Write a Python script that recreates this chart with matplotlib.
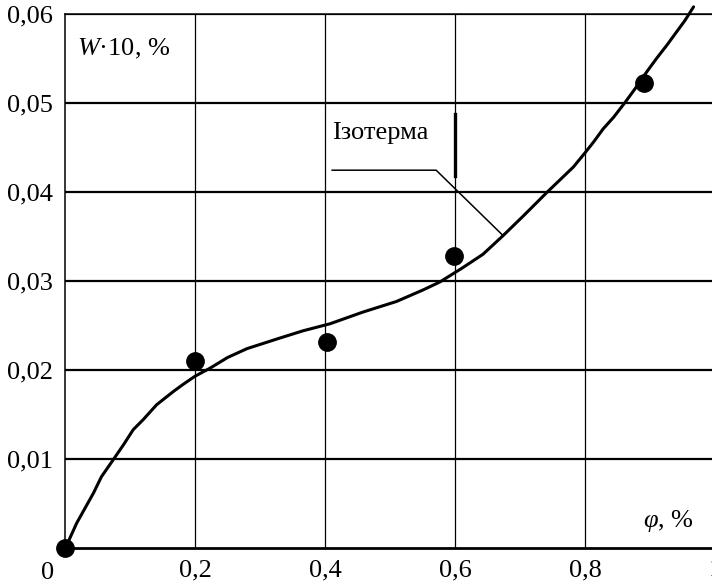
import matplotlib
matplotlib.use("Agg")
import matplotlib.pyplot as plt

plt.rcParams['font.family'] = ['Liberation Serif', 'DejaVu Serif']
plt.rcParams['mathtext.fontset'] = 'custom'
plt.rcParams['mathtext.rm'] = 'Liberation Serif'
plt.rcParams['mathtext.it'] = 'Liberation Serif:italic'

# Isotherm curve
curve_x = [0.0, 0.005, 0.018, 0.031, 0.044, 0.056, 0.074, 0.090, 0.105, 0.120,
           0.141, 0.167, 0.182, 0.200, 0.223, 0.250, 0.28, 0.331, 0.366, 0.408,
           0.458, 0.51, 0.551, 0.577, 0.612, 0.643, 0.674, 0.705, 0.742, 0.762,
           0.782, 0.800, 0.813, 0.828, 0.844, 0.862, 0.877, 0.895, 0.910, 0.926,
           0.941, 0.954, 0.967]
curve_y = [0.0, 0.0007, 0.0028, 0.0045, 0.0062, 0.0080, 0.0099, 0.0116, 0.0133, 0.0144,
           0.0161, 0.0176, 0.0184, 0.0193, 0.0202, 0.0214, 0.0224, 0.0236, 0.0244, 0.0252,
           0.0265, 0.0277, 0.029, 0.0299, 0.0315, 0.033, 0.0351, 0.0373, 0.0400, 0.0414,
           0.0428, 0.0444, 0.0456, 0.0471, 0.0484, 0.0501, 0.0516, 0.0535, 0.0550, 0.0565,
           0.0580, 0.0593, 0.0608]

# Experimental points
pts_x = [0.0, 0.2, 0.403, 0.598, 0.891]
pts_y = [0.0, 0.021, 0.0231, 0.0328, 0.0522]

xticks = [0.2, 0.4, 0.6, 0.8, 1.0]
xtick_labels = ['0,2', '0,4', '0,6', '0,8', '1']
yticks = [0.01, 0.02, 0.03, 0.04, 0.05, 0.06]
ytick_labels = ['0,01', '0,02', '0,03', '0,04', '0,05', '0,06']

FS = 19

W, H = 712, 585
fig = plt.figure(figsize=(W / 100, H / 100), dpi=100)
left, right, top, bottom = 65, 715, 14, 548
ax = fig.add_axes([left / W, (H - bottom) / H, (right - left) / W, (bottom - top) / H])
ax.set_xlim(0, 1)
ax.set_ylim(0, 0.06)

# grid
for xv in xticks:
    ax.axvline(xv, color='black', lw=0.9, zorder=1)
for yv in yticks:
    ax.axhline(yv, color='black', lw=1.6, zorder=1)

ax.spines['right'].set_visible(False)
ax.spines['top'].set_linewidth(1.1)
ax.spines['left'].set_linewidth(1.1)
ax.spines['bottom'].set_linewidth(2.0)

ax.plot(curve_x, curve_y, color='black', lw=2.2, zorder=3, clip_on=False,
        solid_joinstyle='round', solid_capstyle='round')
ax.plot(pts_x, pts_y, 'o', color='black', ms=12.5, zorder=4, clip_on=False)

ax.set_xticks(xticks)
ax.set_xticklabels(xtick_labels)
ax.set_yticks(yticks)
ax.set_yticklabels(ytick_labels)
ax.tick_params(axis='both', length=0, labelsize=FS)
ax.tick_params(axis='x', pad=8)
ax.tick_params(axis='y', pad=9)

ax.text(-0.027, -0.0028, '0', fontsize=FS, ha='center', va='center', clip_on=False)

# annotation for isotherm
ax.plot([0.411, 0.571, 0.674], [0.04245, 0.04245, 0.0351], color='black', lw=1.1, zorder=3)
ax.plot([0.6, 0.6], [0.04178, 0.04876], color='black', lw=2.4, zorder=3)
ax.text(0.411, 0.0459, 'Ізотерма', fontsize=FS, ha='left', va='baseline')

ax.text(0.018, 0.0553, r'$W$' + '·10, %', fontsize=FS, ha='left', va='baseline')
ax.text(0.889, 0.00236, r'$\varphi$' + ', %', fontsize=FS, ha='left', va='baseline')

fig.savefig('out.png', dpi=100)
